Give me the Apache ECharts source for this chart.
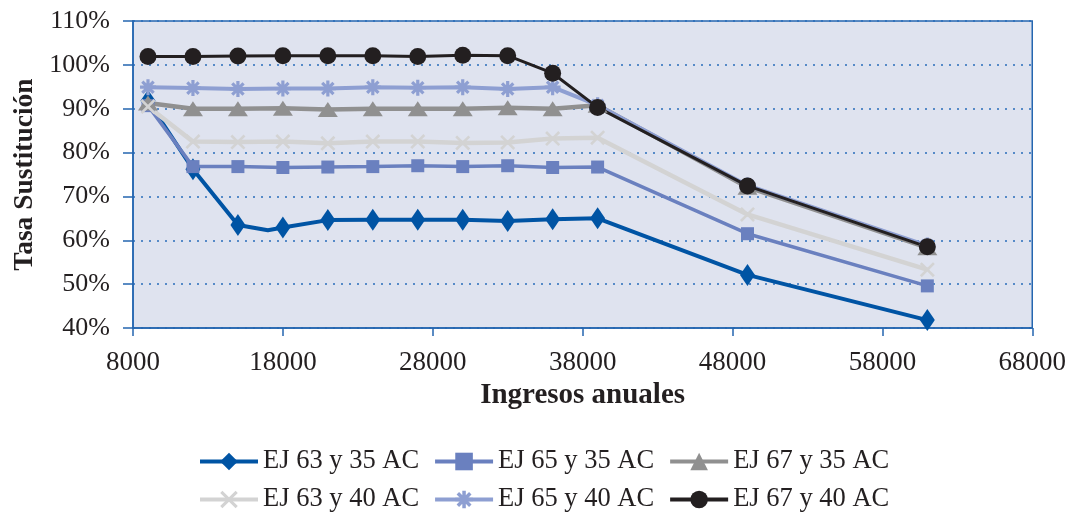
<!DOCTYPE html>
<html>
<head>
<meta charset="utf-8">
<script src="https://cdn.jsdelivr.net/npm/echarts@6/dist/echarts.min.js"></script>
<style>
  html, body { margin: 0; padding: 0; background: #ffffff; }
  #chart { width: 1069px; height: 514px; }
</style>
</head>
<body>
<div id="chart"></div>
<script>
// Ingresos anuales (eje X)
const ingresos = [9000, 12000, 15000, 18000, 21000, 24000, 27000, 30000, 33000, 36000, 39000, 49000, 61000];

// Tasa de sustitución (%) por escenario
const ej63_35 = [91.8, 76.2, 63.5, 62.9, 64.6, 64.7, 64.7, 64.7, 64.4, 64.8, 65.0, 52.1, 41.8];
const ej65_35 = [90.7, 76.8, 76.8, 76.6, 76.7, 76.8, 77.0, 76.8, 77.0, 76.6, 76.7, 61.5, 49.6];
const ej67_35 = [91.3, 90.0, 90.0, 90.1, 89.8, 90.0, 90.0, 90.0, 90.2, 90.0, 90.8, 72.1, 58.3];
const ej63_40 = [90.5, 82.5, 82.4, 82.5, 82.1, 82.5, 82.5, 82.2, 82.3, 83.2, 83.4, 65.9, 53.3];
const ej65_40 = [94.9, 94.7, 94.5, 94.6, 94.6, 94.9, 94.8, 94.9, 94.5, 94.9, 90.8, 72.5, 58.8];
const ej67_40 = [101.9, 101.9, 102.0, 102.1, 102.1, 102.1, 101.9, 102.2, 102.1, 98.1, 90.3, 72.4, 58.5];

// Tramo intermedio sin marcador de la serie EJ 63 y 35 AC
const ej63_35_extra = { ingreso: 17000, tasa: 62.3 };

const etiquetas = ['EJ 63 y 35 AC', 'EJ 65 y 35 AC', 'EJ 67 y 35 AC', 'EJ 63 y 40 AC', 'EJ 65 y 40 AC', 'EJ 67 y 40 AC'];

const FONT = 'Liberation Serif';
const TEXT = '#231f20';
const AXIS = '#2566b0';

const asterisco = 'path://M8,0L12,0L12,20L8,20Z M0,8L20,8L20,12L0,12Z ' +
  'M4.34,1.52L18.48,15.66L15.66,18.48L1.52,4.34Z M15.66,1.52L18.48,4.34L4.34,18.48L1.52,15.66Z';
const aspa = 'path://M0,2.5L2.5,0L10,7.5L17.5,0L20,2.5L12.5,10L20,17.5L17.5,20L10,12.5L2.5,20L0,17.5L7.5,10Z';

function pares(valores) {
  return ingresos.map((x, i) => [x, valores[i]]);
}

// el punto de 17000 va entre 15000 y 18000
const datos63_35 = pares(ej63_35);
datos63_35.splice(3, 0, { value: [ej63_35_extra.ingreso, ej63_35_extra.tasa], symbol: 'none' });

function serie(nombre, datos, color, ancho, simbolo, tam) {
  return {
    name: nombre,
    type: 'line',
    data: datos,
    symbol: simbolo,
    symbolSize: tam,
    showAllSymbol: true,
    lineStyle: { color: color, width: ancho },
    itemStyle: { color: color, borderWidth: 0 },
    emphasis: { disabled: true },
    animation: false,
    z: 2
  };
}

const chart = echarts.init(document.getElementById('chart'), null, { renderer: 'canvas' });

const legendBase = {
  left: 198,
  padding: 0,
  orient: 'horizontal',
  itemWidth: 58,
  itemHeight: 22,
  itemGap: 14,
  lineStyle: { width: 4 },
  textStyle: { fontFamily: FONT, fontSize: 26.5, color: TEXT, width: 160 },
  selectedMode: false
};

chart.setOption({
  animation: false,
  grid: {
    left: 133, right: 36, top: 21, bottom: 186,
    show: true,
    backgroundColor: '#dfe3ef',
    borderColor: AXIS,
    borderWidth: 1.5
  },
  legend: [
    Object.assign({}, legendBase, { top: 448, data: etiquetas.slice(0, 3) }),
    Object.assign({}, legendBase, { top: 486, data: etiquetas.slice(3) })
  ],
  xAxis: {
    type: 'value',
    min: 8000, max: 68000, interval: 10000,
    name: 'Ingresos anuales',
    nameLocation: 'middle',
    nameGap: 51,
    nameTextStyle: { fontFamily: FONT, fontSize: 29, fontWeight: 'bold', color: TEXT },
    axisLine: { show: true, lineStyle: { color: AXIS, width: 1.5 } },
    axisTick: { show: true, length: 8, inside: false, lineStyle: { color: AXIS, width: 1.5 } },
    axisLabel: { fontFamily: FONT, fontSize: 27, color: TEXT, margin: 21, formatter: v => String(v) },
    splitLine: { show: false }
  },
  yAxis: {
    type: 'value',
    min: 40, max: 110, interval: 10,
    name: 'Tasa Sustitución',
    nameLocation: 'middle',
    nameGap: 91,
    nameRotate: 90,
    nameTextStyle: { fontFamily: FONT, fontSize: 27.5, fontWeight: 'bold', color: TEXT },
    axisLine: { show: true, lineStyle: { color: AXIS, width: 1.5 } },
    axisTick: { show: true, length: 10, inside: false, lineStyle: { color: AXIS, width: 1.5 } },
    axisLabel: { fontFamily: FONT, fontSize: 26, color: TEXT, margin: 23, formatter: v => v + '%' },
    splitLine: { show: true, lineStyle: { color: '#2a6ebb', width: 1.5, type: [2, 6] } }
  },
  series: [
    serie(etiquetas[0], datos63_35, '#0054a4', 4, 'diamond', [15, 22]),
    serie(etiquetas[1], pares(ej65_35), '#6a80bf', 3.5, 'rect', 13),
    serie(etiquetas[2], pares(ej67_35), '#909090', 4.5, 'triangle', [20, 15]),
    serie(etiquetas[3], pares(ej63_40), '#d3d3d3', 4.5, aspa, 15),
    serie(etiquetas[4], pares(ej65_40), '#8e9fd2', 4, asterisco, 16),
    serie(etiquetas[5], pares(ej67_40), '#231f20', 3, 'circle', 17)
  ]
});
</script>
</body>
</html>
